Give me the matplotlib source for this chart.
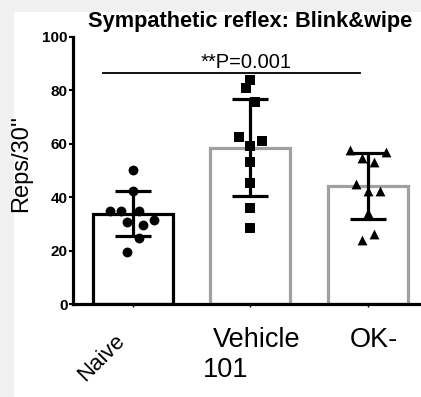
import matplotlib
matplotlib.use("Agg")
import matplotlib.pyplot as plt
from matplotlib.patches import Rectangle
import numpy as np

plt.rcParams['font.family'] = ['Liberation Sans', 'DejaVu Sans']

groups = ["Naive", "Vehicle", "OK-"]
means = [33.8, 58.6, 44.2]
sds = [8.5, 18.2, 12.2]
naive_pts = [50.2, 42.3, 34.8, 34.8, 34.8, 30.8, 29.6, 31.5, 24.7, 19.5]
naive_off = [0.0, 0.0, -0.19, -0.1, 0.05, -0.05, 0.09, 0.18, 0.05, -0.05]
vehicle_pts = [83.9, 81.0, 75.8, 62.4, 61.2, 59.3, 53.1, 45.2, 35.8, 28.6]
vehicle_off = [0.0, -0.04, 0.04, -0.1, 0.1, 0.0, 0.0, 0.0, 0.0, 0.0]
ok_pts = [57.7, 57.0, 54.6, 53.1, 44.9, 42.3, 42.4, 34.0, 24.0, 26.3]
ok_off = [-0.15, 0.15, -0.05, 0.05, -0.1, 0.0, 0.1, 0.0, -0.05, 0.05]
yticks = [0, 20, 40, 60, 80, 100]
title = "Sympathetic reflex: Blink&wipe"
pval = "**P=0.001"
sig_y = 86.5

W, H = 421, 397
fig = plt.figure(figsize=(W/100, H/100), dpi=100, facecolor='#f0f0f0')
fig.patches.append(Rectangle((14/W, 0), 1, 1 - 12/H, transform=fig.transFigure,
                             facecolor='white', edgecolor='none', zorder=-10))

ax = fig.add_axes([73/W, 93/H, 1 - 73/W, 267/H])
ax.set_facecolor('none')
x = np.arange(3)
edge_cols = ['black', '#a0a0a0', '#a0a0a0']
for i in range(3):
    ax.bar(x[i], means[i], width=0.68, facecolor='white', edgecolor=edge_cols[i],
           linewidth=2.3, zorder=1)
pts = [naive_pts, vehicle_pts, ok_pts]
offs = [naive_off, vehicle_off, ok_off]
markers = ['o', 's', '^']
sizes = [50, 42, 50]
for i in range(3):
    ax.scatter(x[i] + np.array(offs[i]), pts[i], marker=markers[i], s=sizes[i],
               color='black', zorder=3, linewidths=0)
for i in range(3):
    ax.errorbar(x[i], means[i], yerr=sds[i], fmt='none', ecolor='black',
                elinewidth=2.3, capsize=13, capthick=2.3, zorder=4)

ax.plot([-0.25, 1.93], [sig_y, sig_y], color='black', lw=1.3, zorder=2, clip_on=False)
ax.text(0.96, sig_y + 0.3, pval, ha='center', va='bottom', fontsize=14.5)

ax.set_xlim(-0.508, 2.45)
ax.set_ylim(0, 100)
ax.set_yticks(yticks)
ax.set_yticklabels([str(v) for v in yticks], fontweight='bold', fontsize=11)
ax.tick_params(axis='y', length=3, width=1.5, pad=1)
ax.set_xticks(x)
ax.set_xticklabels([])
ax.tick_params(axis='x', length=2, width=1)
for s in ['top', 'right']:
    ax.spines[s].set_visible(False)
for s in ['left', 'bottom']:
    ax.spines[s].set_linewidth(2.3)

fig.text(250/W, 1 - 22/H, title, ha='center', va='center', fontsize=15.7, fontweight='bold')
fig.text(21/W, 1 - 163/H, "Reps/30''", rotation=90, ha='center', va='center', fontsize=17)

ax.text(-0.16, -0.1, groups[0], transform=ax.get_xaxis_transform(), rotation=45,
        ha='right', va='top', fontsize=16, rotation_mode='anchor')
ax.text(1.05, -0.085, groups[1], transform=ax.get_xaxis_transform(),
        ha='center', va='top', fontsize=19.5)
ax.text(2.05, -0.085, groups[2], transform=ax.get_xaxis_transform(),
        ha='center', va='top', fontsize=19.5)
ax.text(0.79, -0.2, "101", transform=ax.get_xaxis_transform(),
        ha='center', va='top', fontsize=19.5)

fig.savefig("out.png", dpi=100, facecolor=fig.get_facecolor())
